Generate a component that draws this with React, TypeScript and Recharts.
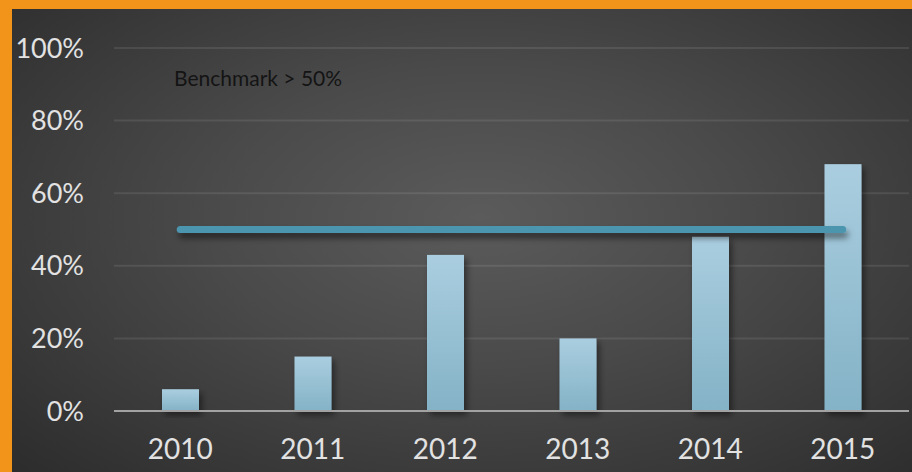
import React from "react";
import {
  ComposedChart,
  Bar,
  Line,
  XAxis,
  YAxis,
  CartesianGrid,
} from "recharts";

// ── Data ────────────────────────────────────────────────────────────

const YEARS = ["2010", "2011", "2012", "2013", "2014", "2015"];
const SHARE = [6, 15, 43, 20, 48, 68];
const BENCHMARK = [50, 50, 50, 50, 50, 50];
const Y_TICKS = [0, 20, 40, 60, 80, 100];

const data = YEARS.map((year, i) => ({
  year,
  share: SHARE[i],
  benchmark: BENCHMARK[i],
}));

// ── Style ───────────────────────────────────────────────────────────

const FONT = "Lato, 'Open Sans', sans-serif";
const LABEL_COLOR = "#e2e2e2";

const BarShape = (props: any) => {
  const { x, y, width, height } = props;
  if (!height || height <= 0) return null;
  return (
    <rect
      x={x}
      y={y}
      width={width}
      height={height}
      fill="url(#barFill)"
      filter="url(#softShadow)"
    />
  );
};

export default function App() {
  return (
    <div
      style={{
        position: "fixed",
        left: 0,
        top: 0,
        width: 912,
        height: 472,
        background: "#f2941a",
        fontFamily: FONT,
      }}
    >
      <style>{`body{margin:0}`}</style>
      <div
        style={{
          position: "absolute",
          left: 12,
          top: 9,
          width: 900,
          height: 463,
          background:
            "radial-gradient(ellipse 75% 80% at 52% 45%, #5b5b5b 0%, #4a4a4a 40%, #383838 75%, #2b2b2b 100%)",
        }}
      >
        <ComposedChart
          width={900}
          height={463}
          data={data}
          margin={{ top: 39, right: 3, left: 0, bottom: 0 }}
        >
          <defs>
            <linearGradient id="barFill" x1="0" y1="0" x2="0" y2="1">
              <stop offset="0%" stopColor="#aacee0" />
              <stop offset="100%" stopColor="#84b2c6" />
            </linearGradient>
            <filter id="softShadow" x="-30%" y="-30%" width="160%" height="160%">
              <feDropShadow dx="3" dy="4" stdDeviation="3" floodColor="#000" floodOpacity="0.45" />
            </filter>
            <filter id="lineShadow" filterUnits="userSpaceOnUse" x="0" y="0" width="900" height="463">
              <feDropShadow dx="2" dy="5" stdDeviation="3" floodColor="#000" floodOpacity="0.5" />
            </filter>
          </defs>
          <CartesianGrid
            vertical={false}
            stroke="rgba(255,255,255,0.09)"
            strokeWidth={2}
          />
          <XAxis
            dataKey="year"
            height={61}
            axisLine={{ stroke: "#a2a2a2", strokeWidth: 2 }}
            tickLine={false}
            tickSize={0}
            tickMargin={28}
            tick={{ fill: LABEL_COLOR, fontSize: 28, fontFamily: FONT }}
          />
          <YAxis
            width={102}
            domain={[0, 100]}
            ticks={Y_TICKS}
            axisLine={false}
            tickLine={false}
            tickSize={0}
            tickMargin={30}
            tickFormatter={(v: number) => `${v}%`}
            tick={{ fill: LABEL_COLOR, fontSize: 27, fontFamily: FONT }}
          />
          <Bar
            dataKey="share"
            barSize={37}
            shape={BarShape}
            isAnimationActive={false}
          />
          <Line
            type="linear"
            dataKey="benchmark"
            stroke="#4b95af"
            strokeWidth={7}
            strokeLinecap="round"
            filter="url(#lineShadow)"
            dot={false}
            activeDot={false}
            isAnimationActive={false}
          />
        </ComposedChart>
        <div
          style={{
            position: "absolute",
            left: 162,
            top: 58,
            fontSize: 21,
            lineHeight: 1,
            color: "#141414",
            fontFamily: FONT,
            whiteSpace: "nowrap",
          }}
        >
          Benchmark &gt; 50%
        </div>
      </div>
    </div>
  );
}
